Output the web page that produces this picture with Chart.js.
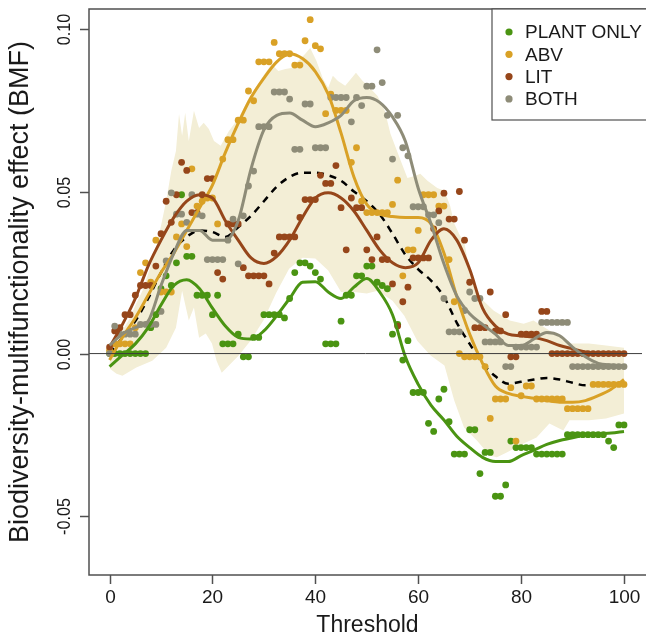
<!DOCTYPE html>
<html>
<head>
<meta charset="utf-8">
<script src="https://cdn.jsdelivr.net/npm/chart.js@4/dist/chart.umd.min.js"></script>
<style>
  html, body { margin: 0; padding: 0; background: #fff; overflow: hidden; }
  canvas { display: block; }
</style>
</head>
<body>
<canvas id="bmfChart" width="646" height="638"></canvas>
<script>
// thresholds 0..100
var thresholds = [];
for (var t = 0; t <= 100; t++) thresholds.push(t);

var plantOnly = [
  0, 0, 0, 0, 0, 0, 0, 0, 0.008, 0.012,
  0.020, 0.024, 0.021, 0.028, 0.049, 0.030, 0.030, 0.018, 0.018, 0.018,
  0.012, 0.018, 0.003, 0.003, 0.003, 0.006, -0.001, -0.001, 0.005, 0.005,
  0.012, 0.012, 0.012, 0.012, 0.011, 0.017, 0.025, 0.028, 0.028, 0.027,
  0.025, 0.023, 0.003, 0.003, 0.003, 0.010, 0.018, 0.018, 0.024, 0.024,
  0.027, 0.027, 0.022, 0.021, 0.020, 0.006, 0.009, -0.002, 0.004, -0.012,
  -0.012, -0.012, -0.0215, -0.024, -0.014, -0.011, -0.021, -0.031, -0.031, -0.031,
  -0.0235, -0.0235, -0.037, -0.0305, -0.0305, -0.044, -0.044, -0.0405, -0.027, -0.029,
  -0.029, -0.029, -0.029, -0.031, -0.031, -0.031, -0.031, -0.031, -0.031, -0.025,
  -0.025, -0.025, -0.025, -0.025, -0.025, -0.025, -0.025, -0.027, -0.029, -0.022,
  -0.022
];
var abv = [
  0.001, 0.003, 0.003, 0.003, 0.003, 0.008, 0.025, 0.028, 0.022, 0.035,
  0.019, 0.019, 0.019, 0.036, 0.040, 0.033, 0.057, 0.0455, 0.047, 0.048,
  0.048, 0.040, 0.060, 0.066, 0.066, 0.072, 0.072, 0.081, 0.078, 0.090,
  0.090, 0.090, 0.096, 0.0925, 0.0925, 0.0925, 0.089, 0.089, 0.0965, 0.103,
  0.095, 0.094, 0.074, 0.080, 0.075, 0.075, 0.075, 0.059, 0.0635, 0.047,
  0.0435, 0.0435, 0.0435, 0.0435, 0.0435, 0.046, 0.0535, 0.024, 0.032, 0.032,
  0.038, 0.049, 0.049, 0.049, 0.0455, 0.0455, 0.029, 0.016, 0.000, -0.001,
  -0.001, -0.001, -0.001, -0.004, -0.020, -0.014, -0.014, -0.014, -0.0105, -0.027,
  -0.013, -0.010, -0.010, -0.014, -0.014, -0.014, -0.014, -0.014, -0.014, -0.017,
  -0.017, -0.017, -0.017, -0.017, -0.0095, -0.0095, -0.0095, -0.0095, -0.0095, -0.0095,
  -0.0095
];
var lit = [
  0.002, 0.007, 0.008, 0.012, 0.012, 0.018, 0.021, 0.021, 0.021, 0.027,
  0.037, 0.047, 0.0405, 0.049, 0.059, 0.0565, 0.0435, 0.0435, 0.049, 0.054,
  0.054, 0.025, 0.023, 0.040, 0.040, 0.040, 0.0265, 0.024, 0.024, 0.024,
  0.024, 0.0215, 0.031, 0.036, 0.036, 0.036, 0.036, 0.042, 0.0475, 0.0475,
  0.0475, 0.055, 0.0525, 0.0525, 0.058, 0.045, 0.032, 0.048, 0.045, 0.045,
  0.032, 0.029, 0.036, 0.029, 0.029, 0.0215, 0.0085, 0.016, 0.0205, 0.0295,
  0.0295, 0.0295, 0.0295, 0.0385, 0.044, 0.0495, 0.0415, 0.0415, 0.050, 0.035,
  0.022, 0.008, 0.008, 0.008, 0.019, 0.007, 0.007, 0.012, -0.001, -0.001,
  0.006, 0.006, 0.006, 0.006, 0.013, 0.013, 0, 0, 0, 0,
  0, 0, 0, 0, 0, 0, 0, 0, 0, 0,
  0
];
var both = [
  0, 0.0085, 0.006, 0.006, 0.006, 0.006, 0.009, 0.009, 0.009, 0.009,
  0.013, 0.0286, 0.0496, 0.043, 0.043, 0.0405, 0.049, 0.043, 0.0425, 0.029,
  0.029, 0.029, 0.029, 0.035, 0.0415, 0.0277, 0.0425, 0.0517, 0.0563, 0.070,
  0.070, 0.070, 0.0807, 0.0807, 0.0807, 0.0785, 0.063, 0.063, 0.077, 0.077,
  0.0635, 0.0635, 0.0635, 0.079, 0.079, 0.079, 0.079, 0.0715, 0.079, 0.0765,
  0.0825, 0.0825, 0.0937, 0.0836, 0.0735, 0.060, 0.0735, 0.0635, 0.061, 0.0453,
  0.0453, 0.0453, 0.0428, 0.0428, 0.0404, 0.017, 0.0067, 0.0067, 0.0067, 0.0133,
  0.019, 0.017, 0.017, 0.0036, 0.0036, 0.0036, 0.0036, -0.004, -0.004, 0.002,
  0.002, 0.002, 0.002, 0.002, 0.0096, 0.0096, 0.0096, 0.0096, 0.0096, 0.0096,
  -0.004, -0.004, -0.004, -0.004, -0.004, -0.004, -0.004, -0.004, -0.004, -0.004,
  -0.004
];

// smoothed fits, sampled every 2.5
var curveX = [];
for (var c = 0; c <= 40; c++) curveX.push(c * 2.5);

var plantFit = [-0.004, -0.0005, 0.003, 0.008, 0.015, 0.021, 0.0228, 0.020, 0.014, 0.0085,
  0.005, 0.0045, 0.007, 0.0117, 0.017, 0.022, 0.0222, 0.019, 0.017, 0.0205,
  0.0232, 0.019, 0.012, -0.001, -0.0095, -0.016, -0.0205, -0.0255, -0.029, -0.032,
  -0.0333, -0.0333, -0.0315, -0.0298, -0.028, -0.0268, -0.026, -0.025, -0.0247, -0.0245,
  -0.024];
var abvFit = [-0.002, 0.005, 0.011, 0.018, 0.025, 0.031, 0.038, 0.045, 0.052, 0.062,
  0.071, 0.079, 0.085, 0.090, 0.0925, 0.091, 0.087, 0.080, 0.068, 0.0545,
  0.046, 0.043, 0.0423, 0.042, 0.042, 0.040, 0.031, 0.0175, 0.006, -0.003,
  -0.010, -0.0123, -0.0132, -0.0138, -0.0145, -0.015, -0.015, -0.0145, -0.013, -0.011,
  -0.008];
var litFit = [0.002, 0.009, 0.017, 0.027, 0.035, 0.042, 0.047, 0.049, 0.048, 0.041,
  0.035, 0.0295, 0.0278, 0.030, 0.035, 0.042, 0.048, 0.0496, 0.048, 0.044,
  0.038, 0.032, 0.028, 0.0265, 0.028, 0.035, 0.0385, 0.035, 0.026, 0.014,
  0.0085, 0.006, 0.0055, 0.005, 0.004, 0.0025, 0.0015, 0.0005, 0, 0,
  0];
var bothFit = [0.0025, 0.006, 0.008, 0.010, 0.021, 0.031, 0.038, 0.038, 0.035, 0.035,
  0.041, 0.057, 0.069, 0.0735, 0.0742, 0.072, 0.070, 0.0712, 0.0735, 0.078,
  0.079, 0.0775, 0.073, 0.0655, 0.051, 0.040, 0.0277, 0.0178, 0.0123, 0.009,
  0.006, 0.0025, 0.0025, 0.0045, 0.0065, 0.0055, 0.002, -0.001, -0.003, -0.0035,
  -0.0037];
var meanFit = [0.0, 0.005, 0.010, 0.017, 0.025, 0.032, 0.036, 0.038, 0.0375, 0.036,
  0.039, 0.0425, 0.047, 0.0515, 0.0545, 0.0558, 0.0558, 0.055, 0.0533, 0.050,
  0.047, 0.043, 0.037, 0.0305, 0.026, 0.0225, 0.0175, 0.0095, 0.003, -0.003,
  -0.007, -0.0093, -0.0087, -0.008, -0.0075, -0.008, -0.009, -0.0098, -0.0098, -0.0095,
  -0.009];

// shaded envelope
var bandTopX = [0, 1.35, 2.5, 3.9, 5.0, 6.4, 7.7, 9.1, 10.0, 11.0, 12.0, 12.9, 13.5, 14.1, 14.7,
  15.4, 16.4, 17.4, 18.3, 19.3, 20.3, 21.6, 23.2, 25.1, 27.0, 28.4, 29.9, 31.5, 32.8, 34.2,
  35.3, 36.7, 38.0, 39.0, 40.2, 41.5, 42.5, 43.4, 44.4, 45.8, 46.9, 47.9, 49.2, 50.2, 52.1,
  53.5, 54.6, 56.6, 57.9, 59.3, 60.4, 61.8, 63.7, 65.1, 66.2, 67.0, 68.1, 68.9, 70.1, 72.0,
  74.7, 77.8, 80.5, 82.4, 85.5, 89.4, 93.2, 96.5, 100];
var bandTopY = [0.0025, 0.0046, 0.0071, 0.0108, 0.0148, 0.0194, 0.0256, 0.0333, 0.0394, 0.0471,
  0.0564, 0.0625, 0.0739, 0.0672, 0.0743, 0.0656, 0.0749, 0.0696, 0.0712, 0.0693,
  0.0656, 0.0641, 0.0687, 0.0727, 0.0786, 0.0820, 0.0857, 0.0893, 0.0872, 0.0878,
  0.0881, 0.0903, 0.0924, 0.0943, 0.0903, 0.0847, 0.0820, 0.0857, 0.0841, 0.0826,
  0.0847, 0.0866, 0.0841, 0.0826, 0.0795, 0.0749, 0.0678, 0.0595, 0.0542, 0.0548,
  0.0555, 0.0533, 0.0511, 0.0502, 0.0456, 0.0401, 0.0364, 0.0348, 0.0246, 0.0173,
  0.0132, 0.0102, 0.0092, 0.0102, 0.0071, 0.0031, 0.0031, 0.0025, 0.0018];
var bandLowX = [0, 1.35, 2.5, 5.2, 8.3, 11.0, 12.9, 14.1, 15.4, 16.4, 17.4, 18.7, 19.9, 20.8, 21.8,
  23.2, 25.1, 27.4, 29.9, 32.4, 34.9, 37.5, 40.0, 42.5, 45.0, 47.5, 50.0, 52.1, 55.0, 57.3,
  59.8, 62.4, 65.1, 67.0, 68.9, 71.4, 73.9, 75.3, 77.2, 80.5, 83.0, 85.5, 88.2, 89.4, 93.2,
  96.5, 100];
var bandLowY = [-0.0046, -0.0062, -0.0068, -0.0043, -0.0022, 0.0018, 0.0080, 0.0194, 0.0102, 0.0142,
  0.0049, 0.0062, 0.0031, -0.0022, -0.0059, -0.0037, -0.0006, 0.0040, 0.0102, 0.0188,
  0.0262, 0.0296, 0.0293, 0.0256, 0.0190, 0.0190, 0.0185, 0.0194, 0.0163, 0.0117,
  0.0040, -0.0006, -0.0037, -0.0145, -0.0228, -0.0268, -0.0314, -0.0320, -0.0305, -0.0277,
  -0.0259, -0.0216, -0.0237, -0.0206, -0.0206, -0.0200, -0.0185];

var xTicks = [0, 20, 40, 60, 80, 100];
var yTicks = [-0.05, 0, 0.05, 0.10];
var yTickLabels = ['-0.05', '0.00', '0.05', '0.10'];

var groups = ['PLANT ONLY', 'ABV', 'LIT', 'BOTH'];
var groupColors = ['#4a9412', '#d9a126', '#96461a', '#8e8c78'];

function pairs(xs, ys) {
  return xs.map(function (x, i) { return { x: x, y: ys[i] } })
}

function pointSet(i, values) {
  return {
    type: 'scatter',
    label: groups[i],
    data: pairs(thresholds, values),
    backgroundColor: groupColors[i],
    borderWidth: 0,
    pointRadius: 3.4,
    order: 50 - i
  }
}

function fitLine(i, values) {
  return {
    type: 'line',
    data: pairs(curveX, values),
    borderColor: groupColors[i],
    borderWidth: 3,
    pointRadius: 0,
    fill: false,
    cubicInterpolationMode: 'monotone',
    order: 20 - i
  }
}

// box, ticks, labels, zero line and legend in base-R style
var baseAxes = {
  id: 'baseAxes',
  afterDatasetsDraw: function (chart) {
    var ctx = chart.ctx, a = chart.chartArea, xs = chart.scales.x, ys = chart.scales.y;
    ctx.save();

    var y0 = ys.getPixelForValue(0);
    ctx.strokeStyle = '#3c3c3c';
    ctx.lineWidth = 1;
    ctx.beginPath();
    ctx.moveTo(a.left, y0);
    ctx.lineTo(a.right, y0);
    ctx.stroke();

    ctx.strokeStyle = '#505050';
    ctx.lineWidth = 1.5;
    ctx.strokeRect(a.left, a.top, a.right - a.left + 20, a.bottom - a.top);

    ctx.fillStyle = '#1a1a1a';
    ctx.font = '19px "Liberation Sans", Arial, sans-serif';
    ctx.textAlign = 'center';
    ctx.textBaseline = 'middle';
    xTicks.forEach(function (v) {
      var px = Math.round(xs.getPixelForValue(v)) + 0.5;
      ctx.beginPath();
      ctx.moveTo(px, a.bottom);
      ctx.lineTo(px, a.bottom + 9);
      ctx.stroke();
      ctx.fillText(String(v), px, a.bottom + 23);
    });
    yTicks.forEach(function (v, i) {
      var py = Math.round(ys.getPixelForValue(v)) + 0.5;
      ctx.beginPath();
      ctx.moveTo(a.left, py);
      ctx.lineTo(a.left - 9, py);
      ctx.stroke();
      ctx.save();
      ctx.translate(a.left - 24, py);
      ctx.rotate(-Math.PI / 2);
      ctx.scale(0.85, 1);
      ctx.fillText(yTickLabels[i], 0, 0);
      ctx.restore();
    });

    ctx.font = '23px "Liberation Sans", Arial, sans-serif';
    ctx.fillText('Threshold', (a.left + a.right) / 2 + 2, a.bottom + 51);
    ctx.save();
    ctx.translate(21, (a.top + a.bottom) / 2);
    ctx.rotate(-Math.PI / 2);
    ctx.font = '27px "Liberation Sans", Arial, sans-serif';
    ctx.fillText('Biodiversity-multifunctionality effect (BMF)', 0, 0);
    ctx.restore();

    // legend
    var lx = 492, ly = a.top, lh = 111;
    ctx.fillStyle = '#fff';
    ctx.fillRect(lx, ly, 200, lh);
    ctx.strokeStyle = '#505050';
    ctx.lineWidth = 1.2;
    ctx.strokeRect(lx, ly, 200, lh);
    ctx.font = '19px "Liberation Sans", Arial, sans-serif';
    ctx.textAlign = 'left';
    groups.forEach(function (g, i) {
      var ry = ly + 23 + i * 22.3;
      ctx.fillStyle = groupColors[i];
      ctx.beginPath();
      ctx.arc(lx + 17, ry, 3.6, 0, Math.PI * 2);
      ctx.fill();
      ctx.fillStyle = '#1a1a1a';
      ctx.fillText(g, lx + 33, ry + 1);
    });
    ctx.restore();
  }
};

var datasets = [
  fitLine(3, bothFit),
  fitLine(2, litFit),
  fitLine(1, abvFit),
  fitLine(0, plantFit),
  pointSet(3, both),
  pointSet(2, lit),
  pointSet(1, abv),
  pointSet(0, plantOnly),
  {
    type: 'line',
    data: pairs(curveX, meanFit),
    borderColor: '#000',
    borderWidth: 2.5,
    borderDash: [7, 6],
    pointRadius: 0,
    fill: false,
    cubicInterpolationMode: 'monotone',
    order: 60
  },
  {
    type: 'line',
    data: pairs(bandTopX, bandTopY),
    borderWidth: 0,
    borderColor: 'rgba(0,0,0,0)',
    backgroundColor: '#f3eed6',
    pointRadius: 0,
    tension: 0,
    fill: '+1',
    order: 100
  },
  {
    type: 'line',
    data: pairs(bandLowX, bandLowY),
    borderWidth: 0,
    borderColor: 'rgba(0,0,0,0)',
    pointRadius: 0,
    tension: 0,
    fill: false,
    order: 101
  }
];

var bmfChart = new Chart(document.getElementById('bmfChart'), {
  type: 'scatter',
  data: { datasets: datasets },
  options: {
    responsive: false,
    animation: false,
    layout: { padding: { left: 89, top: 9, right: 0, bottom: 63 } },
    scales: {
      x: { type: 'linear', min: -4, max: 103.5, display: false },
      y: { type: 'linear', min: -0.0683, max: 0.1063, display: false }
    },
    plugins: {
      legend: { display: false },
      tooltip: { enabled: false }
    }
  },
  plugins: [baseAxes]
});
</script>
</body>
</html>
